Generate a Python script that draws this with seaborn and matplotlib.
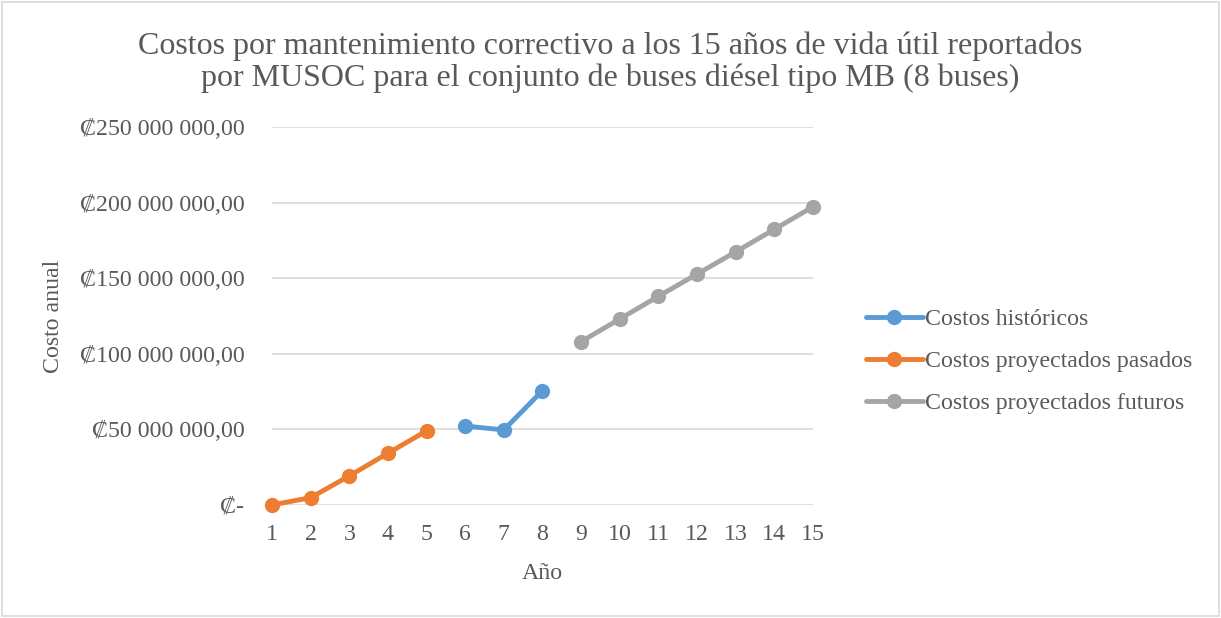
import matplotlib
matplotlib.use("Agg")
import matplotlib.pyplot as plt
import matplotlib.ticker as mticker
from matplotlib.patches import Rectangle
import seaborn as sns
import pandas as pd

# Annual corrective maintenance cost per segment (colones)
years_past = [1, 2, 3, 4, 5]
cost_past = [0, 4.8e6, 19.2e6, 34.2e6, 49.0e6]
years_hist = [6, 7, 8]
cost_hist = [52.2e6, 49.6e6, 75.6e6]
years_future = [9, 10, 11, 12, 13, 14, 15]
cost_future = [108.0e6, 123.0e6, 138.0e6, 152.7e6, 167.4e6, 182.3e6, 197.2e6]

series_names = ["Costos históricos", "Costos proyectados pasados", "Costos proyectados futuros"]
series_colors = ["#5B9BD5", "#ED7D31", "#A5A5A5"]
y_ticks = [0, 50e6, 100e6, 150e6, 200e6, 250e6]
title_lines = [
    "Costos por mantenimiento correctivo a los 15 años de vida útil reportados",
    "por MUSOC para el conjunto de buses diésel tipo MB (8 buses)",
]

df = pd.concat([
    pd.DataFrame({"Año": years_hist, "Costo": cost_hist, "Serie": series_names[0]}),
    pd.DataFrame({"Año": years_past, "Costo": cost_past, "Serie": series_names[1]}),
    pd.DataFrame({"Año": years_future, "Costo": cost_future, "Serie": series_names[2]}),
], ignore_index=True)

sns.set_theme(style="white")
plt.rcParams["font.family"] = ["Liberation Serif", "DejaVu Serif"]
text_color = "#595959"

fig = plt.figure(figsize=(12.21, 6.18), dpi=100)
ax = fig.add_axes([0.2228, 0.183, 0.4430, 0.6115])

sns.lineplot(data=df, x="Año", y="Costo", hue="Serie", hue_order=series_names,
             palette=dict(zip(series_names, series_colors)), marker="o",
             markersize=11, markeredgewidth=0, linewidth=3.5, ax=ax, legend=True)
for ln in ax.lines:
    ln.set_clip_on(False)

ax.set_xlim(1, 15)
ax.set_ylim(0, 250e6)
ax.set_xticks(range(1, 16))
ax.set_yticks(y_ticks)


def colon_fmt(v, pos):
    if v == 0:
        return "₡-"
    s = f"{v:,.2f}".replace(",", " ").replace(".", ",")
    return "₡" + s


ax.yaxis.set_major_formatter(mticker.FuncFormatter(colon_fmt))
ax.grid(axis="y", color="#D9D9D9", linewidth=1.2)
ax.grid(axis="x", visible=False)
for sp in ax.spines.values():
    sp.set_visible(False)
ax.tick_params(axis="both", colors=text_color, labelsize=17.2, length=0)
ax.tick_params(axis="y", pad=20)
ax.tick_params(axis="x", pad=14)
ax.set_axisbelow(True)

ax.set_xlabel("Año", fontsize=17.2, color=text_color, labelpad=13)
ax.set_ylabel("Costo anual", fontsize=17.2, color=text_color)
ax.yaxis.set_label_coords(-0.385, 0.5)

fig.text(0.5, 1 - 46 / 618, title_lines[0], ha="center", va="center",
         fontsize=23, color=text_color)
fig.text(0.5, 1 - 78 / 618, title_lines[1], ha="center", va="center",
         fontsize=23, color=text_color)

leg = ax.legend(loc="center left", bbox_to_anchor=(1.08, 0.38), frameon=False,
                fontsize=17.2, handlelength=2.4, handletextpad=0.1,
                labelspacing=0.85, borderaxespad=0)
for t in leg.get_texts():
    t.set_color(text_color)

fig.patches.append(Rectangle((0.002, 0.003), 0.996, 0.994, transform=fig.transFigure,
                             fill=False, edgecolor="#D9D9D9", linewidth=1.2))

fig.savefig("out.png", dpi=100)
